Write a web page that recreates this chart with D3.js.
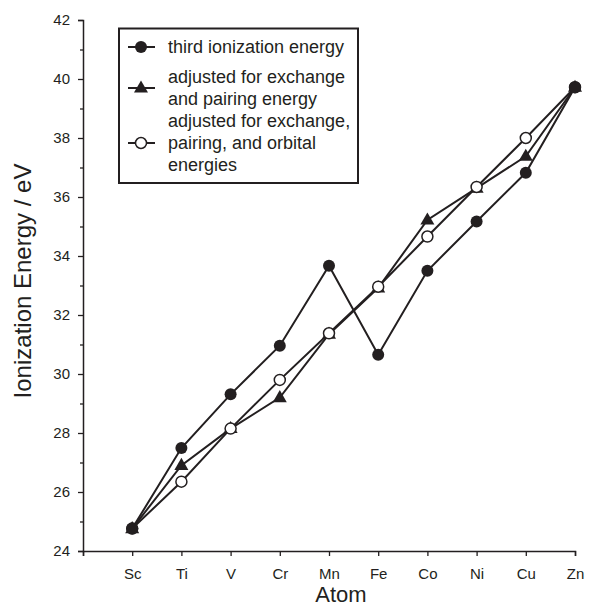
<!DOCTYPE html>
<html>
<head>
<meta charset="utf-8">
<script src="https://cdn.jsdelivr.net/npm/d3@7"></script>
<style>
  html, body { margin: 0; padding: 0; background: #fff; }
  svg { display: block; font-family: "Liberation Sans", Arial, sans-serif; }
</style>
</head>
<body>
<svg id="chart" width="592" height="609"></svg>
<script>
const atoms = ["Sc", "Ti", "V", "Cr", "Mn", "Fe", "Co", "Ni", "Cu", "Zn"];
const thirdIE = [24.76, 27.49, 29.31, 30.96, 33.67, 30.65, 33.50, 35.17, 36.82, 39.72];
const adjExchPair = [24.76, 26.90, 28.15, 29.20, 31.35, 32.92, 35.22, 36.30, 37.38, 39.72];
const adjExchPairOrb = [24.76, 26.35, 28.15, 29.80, 31.38, 32.96, 34.66, 36.34, 38.00, 39.72];
const yMajorTicks = [24, 26, 28, 30, 32, 34, 36, 38, 40, 42];
const yMinorTicks = [25, 27, 29, 31, 33, 35, 37, 39, 41];
const legendLabels = [
  ["third ionization energy"],
  ["adjusted for exchange", "and pairing energy"],
  ["adjusted for exchange,", "pairing, and orbital", "energies"]
];

const ink = "#231f20";
const svg = d3.select("#chart");
const margin = {left: 83, top: 20, right: 17, bottom: 58};
const W = 592, H = 609;

const x = d3.scaleLinear().domain([0, 10]).range([margin.left, W - margin.right]);
const y = d3.scaleLinear().domain([24, 42]).range([H - margin.bottom, margin.top]);

// X axis
const xAxis = d3.axisBottom(x)
  .tickValues(d3.range(0, 11))
  .tickSize(5)
  .tickPadding(12)
  .tickFormat(d => d >= 1 ? atoms[d - 1] : "");
const gx = svg.append("g").attr("transform", `translate(0,${y(24)})`).call(xAxis);
gx.select(".domain").attr("stroke", ink).attr("stroke-width", 1.5);
gx.selectAll(".tick line").attr("stroke", ink).attr("stroke-width", 1.3);
gx.selectAll(".tick text").attr("fill", ink).style("font-size", "15px");

// Y axis
const yAxis = d3.axisLeft(y).tickValues(yMajorTicks).tickSize(5).tickPadding(8).tickFormat(d3.format("d"));
const gy = svg.append("g").attr("transform", `translate(${x(0)},0)`).call(yAxis);
gy.select(".domain").attr("stroke", ink).attr("stroke-width", 1.5);
gy.selectAll(".tick line").attr("stroke", ink).attr("stroke-width", 1.3);
gy.selectAll(".tick text").attr("fill", ink).style("font-size", "15px");
const yMinor = d3.axisLeft(y).tickValues(yMinorTicks).tickSize(3).tickFormat("");
const gym = svg.append("g").attr("transform", `translate(${x(0)},0)`).call(yMinor);
gym.select(".domain").remove();
gym.selectAll(".tick line").attr("stroke", ink).attr("stroke-width", 1.3);

// Axis titles
svg.append("text")
  .attr("x", 341).attr("y", 602)
  .attr("text-anchor", "middle").attr("fill", ink)
  .style("font-size", "22px").text("Atom");
svg.append("text")
  .attr("transform", `translate(31,281) rotate(-90)`)
  .attr("text-anchor", "middle").attr("fill", ink)
  .style("font-size", "24px").text("Ionization Energy / eV");

// Series
const series = [
  {vals: adjExchPair, marker: "triangle"},
  {vals: adjExchPairOrb, marker: "open"},
  {vals: thirdIE, marker: "filled"}
];
const line = d3.line().x((d, i) => x(i + 1)).y(d => y(d));
series.forEach(s => {
  svg.append("path").datum(s.vals)
    .attr("d", line).attr("fill", "none")
    .attr("stroke", ink).attr("stroke-width", 2).attr("stroke-linejoin", "miter");
});

const triSym = d3.symbol().type(d3.symbolTriangle).size(85);
function drawMarker(g, type, cx, cy) {
  if (type === "triangle") {
    g.append("path").attr("d", triSym())
      .attr("transform", `translate(${cx},${cy + 0.5})`).attr("fill", ink);
  } else if (type === "open") {
    g.append("circle").attr("cx", cx).attr("cy", cy).attr("r", 5.5)
      .attr("fill", "#fff").attr("stroke", ink).attr("stroke-width", 1.5);
  } else {
    g.append("circle").attr("cx", cx).attr("cy", cy).attr("r", 6).attr("fill", ink);
  }
}
series.forEach(s => {
  const g = svg.append("g");
  s.vals.forEach((v, i) => drawMarker(g, s.marker, x(i + 1), y(v)));
});

// Legend
const lg = svg.append("g");
lg.append("rect").attr("x", 119).attr("y", 28.5).attr("width", 239).attr("height", 154.5)
  .attr("fill", "#fff").attr("stroke", ink).attr("stroke-width", 2);
const legendMarkers = ["filled", "triangle", "open"];
const entryTops = [47, 77, 121];
const lh = 22;
legendLabels.forEach((lines, k) => {
  const cy = entryTops[k] + (lines.length - 1) * lh / 2;
  lg.append("line").attr("x1", 128).attr("x2", 155).attr("y1", cy).attr("y2", cy)
    .attr("stroke", ink).attr("stroke-width", 2);
  drawMarker(lg, legendMarkers[k], 141, cy);
  lines.forEach((t, j) => {
    lg.append("text").attr("x", 168).attr("y", entryTops[k] + j * lh)
      .attr("dy", "0.35em").attr("fill", ink).style("font-size", "18px").text(t);
  });
});
</script>
</body>
</html>
